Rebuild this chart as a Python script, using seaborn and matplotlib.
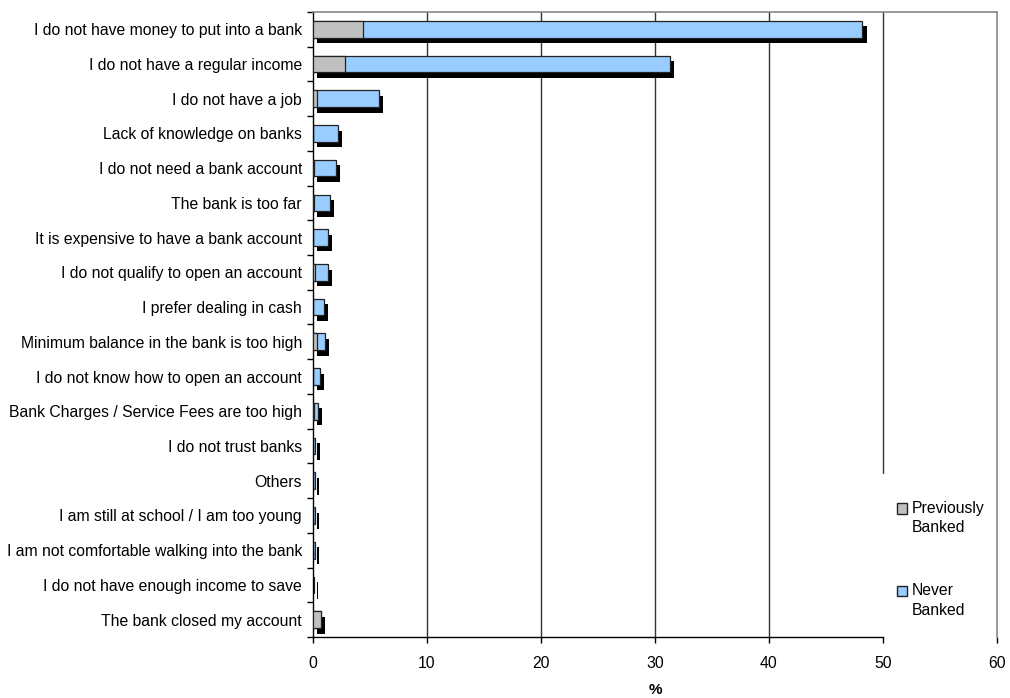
import matplotlib
matplotlib.use("Agg")
import matplotlib.pyplot as plt
import matplotlib.patheffects as pe
from matplotlib.patches import Patch
import seaborn as sns
import pandas as pd

reasons = [
    "I do not have money to put into a bank",
    "I do not have a regular income",
    "I do not have a job",
    "Lack of knowledge on banks",
    "I do not need a bank account",
    "The bank is too far",
    "It is expensive to have a bank account",
    "I do not qualify to open an account",
    "I prefer dealing in cash",
    "Minimum balance in the bank is too high",
    "I do not know how to open an account",
    "Bank Charges / Service Fees are too high",
    "I do not trust banks",
    "Others",
    "I am still at school / I am too young",
    "I am not comfortable walking into the bank",
    "I do not have enough income to save",
    "The bank closed my account",
]
previously_banked = [4.4, 2.8, 0.3, 0.0, 0.05, 0.05, 0.0, 0.15, 0.0, 0.3,
                     0.0, 0.1, 0.0, 0.0, 0.0, 0.0, 0.0, 0.65]
never_banked = [43.8, 28.5, 5.5, 2.2, 1.95, 1.45, 1.3, 1.15, 0.95, 0.75,
                0.6, 0.3, 0.2, 0.15, 0.15, 0.15, 0.1, 0.0]
x_ticks = [0, 10, 20, 30, 40, 50, 60]

df = pd.DataFrame({"reason": reasons,
                   "prev": previously_banked,
                   "never": never_banked})
df["total"] = df["prev"] + df["never"]

sns.set_style("white")
plt.rcParams["font.family"] = ["Liberation Sans", "DejaVu Sans"]
plt.rcParams["text.color"] = "black"
plt.rcParams["axes.labelcolor"] = "black"
plt.rcParams["xtick.color"] = "black"
plt.rcParams["ytick.color"] = "black"

fig = plt.figure(figsize=(10.1, 6.98), dpi=100)
ax = fig.add_axes([0.31, 0.0874, 0.677, 0.8956])

# full bar (never banked on top of previously banked) with drop shadow
sns.barplot(data=df, x="total", y="reason", color="#99CCFF", saturation=1,
            width=0.48, edgecolor="#222222", linewidth=0.9, ax=ax, orient="h")
for p in ax.patches:
    p.set_path_effects([pe.SimplePatchShadow(offset=(3, -4), shadow_rgbFace="black",
                                             alpha=1.0), pe.Normal()])
    p.set_zorder(2)
n_first = len(ax.patches)
sns.barplot(data=df, x="prev", y="reason", color="#C0C0C0", saturation=1,
            width=0.48, edgecolor="#222222", linewidth=0.9, ax=ax, orient="h")
for p in ax.patches[n_first:]:
    p.set_zorder(3)
    if p.get_width() <= 0:
        p.set_visible(False)

ax.set_xlim(0, 60)
ax.set_ylim(len(reasons) - 0.5, -0.5)
ax.set_xticks(x_ticks)
ax.set_ylabel("")
ax.set_xlabel("%", fontsize=11, fontweight="bold", labelpad=8)

# vertical grid lines (the one at 50 stops above the legend area)
for t in x_ticks[1:-1]:
    ax.axvline(t, ymin=0.262 if t == 50 else 0, color="#333333", linewidth=1, zorder=0.5)

# y tick marks between categories
ax.set_yticks(range(len(reasons)))
ax.set_yticklabels(reasons, fontsize=11.3)
ax.set_yticks([i - 0.5 for i in range(len(reasons) + 1)], minor=True)
ax.tick_params(axis="y", which="major", length=0, pad=8)
ax.tick_params(axis="y", which="minor", length=4, width=1, color="black", left=True)
ax.tick_params(axis="x", which="major", length=4, width=1, color="black",
               bottom=True, labelsize=11.3, pad=10)

for side in ["top", "right"]:
    ax.spines[side].set_color("#888888")
    ax.spines[side].set_linewidth(1.2)
for side in ["left", "bottom"]:
    ax.spines[side].set_color("black")
    ax.spines[side].set_linewidth(1)
ax.spines["bottom"].set_bounds(0, 50)

handles = [Patch(facecolor="#C0C0C0", edgecolor="#222222", label="Previously\nBanked"),
           Patch(facecolor="#99CCFF", edgecolor="#222222", label="Never\nBanked")]
leg = ax.legend(handles=handles, loc="lower left", bbox_to_anchor=(0.845, 0.021),
                frameon=False, fontsize=11.3, handlelength=0.65, handleheight=0.65,
                handletextpad=0.3, labelspacing=3.1, borderaxespad=0)
for txt in leg.get_texts():
    txt.set_linespacing(1.35)
# put each swatch next to the first line of its label
for h in leg.legend_handles:
    h.set_y(h.get_y() + 7)

fig.savefig("out.png", dpi=100)
